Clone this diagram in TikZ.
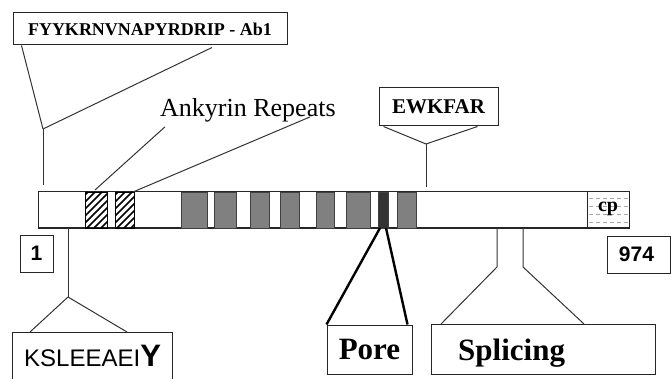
\documentclass[tikz,border=0pt]{standalone}
\usepackage{fontspec}
\setmainfont{Liberation Serif}
\newfontfamily\arialf{Liberation Sans}
\begin{document}
\begin{tikzpicture}[x=1pt,y=-1pt,
  box/.style={draw=black!85, line width=1pt, inner sep=0pt},
  conn/.style={draw=black!80, line width=1pt},
  thickconn/.style={draw=black, line width=2.4pt},
  graybox/.style={draw=black!75, line width=0.8pt, fill=black!50},
  darkbox/.style={draw=black!75, line width=0.8pt, fill=black!80},
  hatchbox/.style={draw=black, line width=0.8pt}]
\useasboundingbox (0,0) rectangle (671,379);
\clip (0,0) rectangle (671,379);

% main bar
\node[box, minimum width=591pt, minimum height=36pt] (bar) at (333.5,210) {};
% hatched ankyrin boxes
\foreach \a/\b [count=\i] in {85/107,115/134}{
  \begin{scope}
    \clip (\a,192) rectangle (\b,228);
    \foreach \k in {-40,-33,...,40}{
      \draw[line width=1.6pt] (\a+\k,228) -- (\a+\k+36,192);
    }
  \end{scope}
  \draw[hatchbox] (\a,192) rectangle (\b,228);
}
% gray transmembrane boxes
\foreach \a/\b in {181/207,214/236,250/269,280/299,316/334,346/370,397/416}{
  \draw[graybox] (\a,192) rectangle (\b,228);
}
\draw[darkbox] (378,192) rectangle (388,228);
% cp box
\node[box, minimum width=42pt, minimum height=36pt] (cpbox) at (608,210) {};
\foreach \yy in {198,206,214,222}{
  \draw[black!35, line width=0.8pt, dash pattern=on 4pt off 3pt] (589,\yy) -- (628,\yy);
}
\node[font=\bfseries\fontsize{20}{20}\selectfont, inner sep=0pt] (cp) at (608,209) {cp};

% top label boxes
\node[box, minimum width=274pt, minimum height=32pt, font=\bfseries\fontsize{18}{18}\selectfont] (ab) at (150,29) {FYYKRNVNAPYRDRIP - Ab1};
\node[box, minimum width=119pt, minimum height=38pt, font=\bfseries\fontsize{21}{21}\selectfont] (ew) at (438.5,107) {EWKFAR};
\node[anchor=base west, inner sep=0pt, font=\fontsize{26}{26}\selectfont] (ank) at (160,117) {Ankyrin Repeats};

% end numbers
\node[box, minimum width=33pt, minimum height=37pt, font=\arialf\bfseries\fontsize{21}{21}\selectfont] (n1) at (36.5,253.5) {1};
\node[box, minimum width=63pt, minimum height=37pt, font=\arialf\bfseries\fontsize{21}{21}\selectfont] (n974) at (638.5,254.5) {\hspace*{-4pt}974};

% bottom boxes
\node[box, minimum width=160pt, minimum height=70pt, anchor=north west] (ks) at (12,332) {};
\node[anchor=base west, inner sep=0pt] (kstext) at (24,366) {\arialf\fontsize{24}{24}\selectfont KSLEEAEI\bfseries\fontsize{31}{31}\selectfont Y};
\node[box, minimum width=85pt, minimum height=49pt, font=\bfseries\fontsize{31}{31}\selectfont] (pore) at (369.5,349.5) {Pore};
\node[box, minimum width=224pt, minimum height=50pt, anchor=north west] (spl) at (431,324) {};
\node[anchor=base west, inner sep=0pt, font=\bfseries\fontsize{31}{31}\selectfont] (spltext) at (458,360) {Splicing};

% junction coordinates
\coordinate (a1) at (43,129);
\coordinate (a1end) at (43,185);
\coordinate (ewj) at (426,144);
\coordinate (ewend) at (426,187);
\coordinate (ksj) at (68,297);
\coordinate (ksbar) at (68,228);
\coordinate (sj1) at (497,267);
\coordinate (sj2) at (523,267);
\coordinate (sb1) at (497,228);
\coordinate (sb2) at (523,228);

% connectors
\draw[conn] (ab.south west) ++(9,0) -- (a1);
\draw[conn] (ab.south) ++(62,2) -- (a1);
\draw[conn] (a1) -- (a1end);

\draw[conn] (ank.south west) ++(5,4) -- (95,190);
\draw[conn] (ank.base east) ++(-26,0) -- (133,192);

\draw[conn] (ew.south west) ++(5,0) -- (ewj);
\draw[conn] (ew.south east) ++(-21,0) -- (ewj);
\draw[conn] (ewj) -- (ewend);

\draw[conn] (ksbar) -- (ksj);
\draw[conn] (ksj) -- (30,332);
\draw[conn] (ksj) -- (127,332);

\draw[thickconn] (380,228) -- (pore.north west);
\draw[thickconn] (386,228) -- ([xshift=-5pt]pore.north east);

\draw[conn] (sb1) -- (sj1) -- ([xshift=10pt]spl.north west);
\draw[conn] (sb2) -- (sj2) -- (584,324);
\end{tikzpicture}
\end{document}
